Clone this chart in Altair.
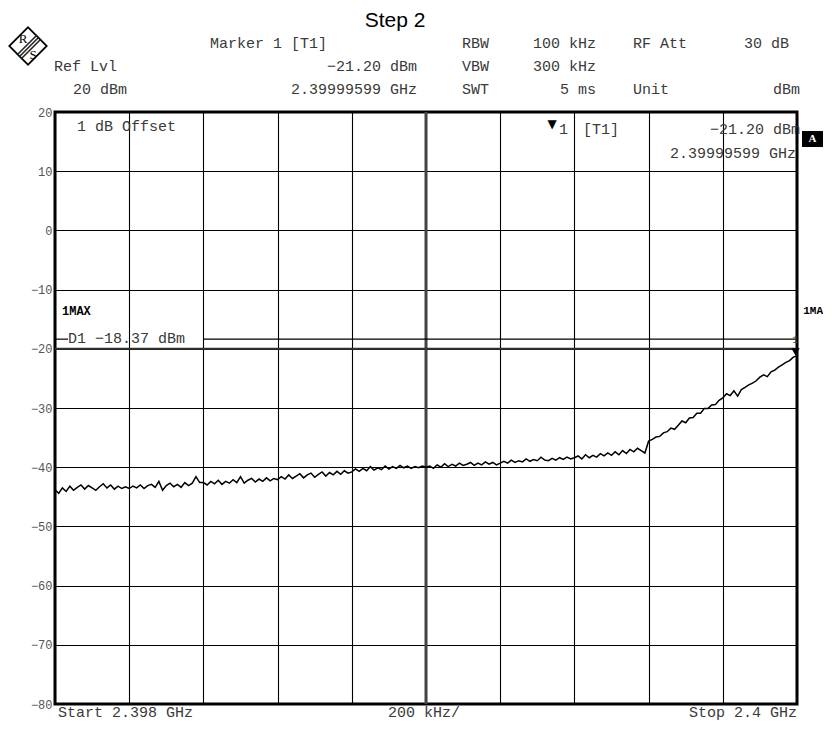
import altair as alt
import pandas as pd

# ---------------- data ----------------
start_mhz = 2398.0
stop_mhz = 2400.0
level_dbm = [
    # 2398.00 - 2398.19
    -43.8, -44.4, -43.5, -44.1, -43.2, -43.9, -43.4, -43.0, -43.7, -43.1,
    -43.5, -43.9, -43.3, -42.8, -43.5, -43.0, -43.7, -43.2, -43.6, -43.3,
    # 2398.20 - 2398.39
    -43.6, -43.2, -43.5, -43.0, -43.6, -43.1, -42.9, -43.4, -42.4, -43.9,
    -43.1, -42.7, -43.3, -42.9, -43.4, -42.6, -43.1, -42.7, -41.6, -42.6,
    # 2398.40 - 2398.59
    -42.6, -43.0, -42.4, -42.8, -42.2, -42.9, -42.4, -42.7, -42.1, -42.6,
    -41.6, -42.7, -42.2, -41.9, -42.5, -42.0, -42.4, -41.8, -42.3, -41.9,
    # 2398.60 - 2398.79
    -42.1, -41.6, -42.0, -41.3, -41.9, -41.5, -41.1, -41.8, -41.3, -41.0,
    -41.7, -41.2, -40.8, -41.5, -40.9, -41.3, -40.7, -41.2, -40.6, -41.0,
    # 2398.80 - 2398.99
    -40.8, -40.3, -40.7, -40.2, -40.6, -39.9, -40.5, -40.1, -40.4, -39.8,
    -40.3, -39.9, -40.2, -39.7, -40.1, -39.8, -40.2, -39.9, -40.1, -39.8,
    # 2399.00 - 2399.19
    -40.0, -39.8, -40.2, -39.6, -40.0, -39.4, -39.9, -39.5, -39.8, -39.3,
    -39.7, -39.5, -39.2, -39.7, -39.3, -39.6, -39.1, -39.5, -39.2, -39.6,
    # 2399.20 - 2399.39
    -39.3, -39.0, -39.3, -38.8, -39.2, -38.9, -39.1, -38.6, -39.0, -38.7,
    -38.9, -38.3, -38.8, -38.9, -38.5, -38.8, -38.4, -38.7, -38.3, -38.6,
    # 2399.40 - 2399.59
    -38.4, -38.1, -38.6, -37.9, -38.4, -38.0, -38.3, -37.7, -38.1, -37.6,
    -38.0, -37.4, -37.9, -37.2, -37.7, -37.0, -37.4, -36.8, -37.2, -37.6,
    # 2399.60 - 2399.79
    -35.6, -35.3, -34.9, -34.8, -34.2, -34.0, -33.4, -33.6, -32.9, -32.2,
    -32.5, -31.7, -31.6, -30.9, -30.9, -30.1, -30.1, -29.5, -29.4, -28.7,
    # 2399.80 - 2400.00
    -28.3, -27.6, -27.9, -27.1, -28.0, -26.9, -26.5, -26.1, -25.8, -25.4,
    -24.8, -24.4, -24.7, -23.9, -23.6, -23.1, -22.7, -22.3, -22.0, -21.4,
    -21.2,
]
x_grid_mhz = [2398.0, 2398.2, 2398.4, 2398.6, 2398.8, 2399.0,
              2399.2, 2399.4, 2399.6, 2399.8, 2400.0]
y_ticks = [20, 10, 0, -10, -20, -30, -40, -50, -60, -70, -80]
display_line_dbm = -18.37
marker_freq_mhz = [2399.99599]
marker_level_dbm = [-21.20]

n = len(level_dbm)
freq = [start_mhz + (stop_mhz - start_mhz) * i / (n - 1) for i in range(n)]
trace = pd.DataFrame({"f": freq, "dbm": level_dbm})
marker = pd.DataFrame({"f": marker_freq_mhz, "dbm": marker_level_dbm})
one = pd.DataFrame({"k": [0]})

# ---------------- layout ----------------
W, H = 742, 592
OX, OY = 55, 112  # plot origin in page pixels

xs = alt.Scale(domain=[start_mhz, stop_mhz], nice=False, zero=False)
ys = alt.Scale(domain=[-80, 20], nice=False, zero=False)

MONO = "Liberation Mono"
GREY = "#3a3a3a"


def label(s, x, y, align="left", size=15, font=MONO, color=GREY, weight="normal",
          baseline="middle"):
    return alt.Chart(one).mark_text(
        text=s, align=align, baseline=baseline, font=font, fontSize=size,
        color=color, fontWeight=weight,
    ).encode(x=alt.value(x - OX), y=alt.value(y - OY))


def seg(x1, y1, x2, y2, width=1.0, color="black"):
    return alt.Chart(one).mark_rule(color=color, strokeWidth=width).encode(
        x=alt.value(x1 - OX), y=alt.value(y1 - OY),
        x2=alt.value(x2 - OX), y2=alt.value(y2 - OY),
    )


line = alt.Chart(trace).mark_line(color="black", strokeWidth=1.5).encode(
    x=alt.X("f:Q", scale=xs, axis=alt.Axis(
        values=x_grid_mhz, grid=True, gridColor="black", gridWidth=1.1, gridOpacity=1,
        labels=False, ticks=False, domain=False, title=None)),
    y=alt.Y("dbm:Q", scale=ys, axis=alt.Axis(
        values=y_ticks, grid=True, gridColor="black", gridWidth=1.1, gridOpacity=1,
        ticks=False, domain=False, title=None, labelFont=MONO, labelFontSize=12,
        labelColor="#555", labelPadding=3, labelFlush=False)),
)

center_rule = alt.Chart(one).mark_rule(color="#444", strokeWidth=3).encode(
    x=alt.datum(2399.0, scale=xs))
minus20_rule = alt.Chart(one).mark_rule(color="#333", strokeWidth=2).encode(
    y=alt.datum(-20, scale=ys))
d1_a = alt.Chart(one).mark_rule(color="black", strokeWidth=1.2).encode(
    y=alt.datum(display_line_dbm, scale=ys), x=alt.value(0), x2=alt.value(13))
d1_b = alt.Chart(one).mark_rule(color="black", strokeWidth=1.2).encode(
    y=alt.datum(display_line_dbm, scale=ys), x=alt.value(149), x2=alt.value(W))

mk = alt.Chart(marker).mark_point(
    shape="triangle-down", filled=True, color="black", size=70, yOffset=-4, opacity=1
).encode(x=alt.X("f:Q", scale=xs), y=alt.Y("dbm:Q", scale=ys))
mk_lbl = alt.Chart(marker).mark_text(
    text="1", font=MONO, fontSize=11, color=GREY, dy=-16
).encode(x=alt.X("f:Q", scale=xs), y=alt.Y("dbm:Q", scale=ys))

# R&S logo
logo_box = alt.Chart(one).mark_point(
    shape="square", angle=45, size=700, filled=False, color="black", strokeWidth=1.8,
    opacity=1).encode(x=alt.value(28 - OX), y=alt.value(46 - OY))
logo_band1 = seg(17, 55, 37, 35, width=1.6, color="#222")
logo_band2 = seg(19, 57, 39, 37, width=1.6, color="#222")
logo_band3 = seg(21, 59, 41, 39, width=1.6, color="#222")
logo_r = label("R", 23, 39, align="center", size=13, font="Liberation Serif", color="black")
logo_s = label("S", 33, 55, align="center", size=13, font="Liberation Serif", color="black")

a_box = alt.Chart(one).mark_rect(color="black").encode(
    x=alt.value(802 - OX), x2=alt.value(823 - OX), y=alt.value(131 - OY), y2=alt.value(147 - OY))
a_txt = label("A", 812.5, 139, align="center", size=11, color="white", weight="bold",
              font="Liberation Serif")

BOT = 712
texts = [
    label("Step 2", 395, 27, align="center", size=21, font="Liberation Sans", color="black",
          baseline="alphabetic"),
    # header row 1
    label("Marker 1 [T1]", 210, 43),
    label("RBW", 462, 43),
    label("100 kHz", 596, 43, align="right"),
    label("RF Att", 633, 43),
    label("30 dB", 789, 43, align="right"),
    # header row 2
    label("Ref Lvl", 54, 66),
    label("\u221221.20 dBm", 417, 66, align="right"),
    label("VBW", 462, 66),
    label("300 kHz", 596, 66, align="right"),
    # header row 3
    label("20 dBm", 127, 89, align="right"),
    label("2.39999599 GHz", 417, 89, align="right"),
    label("SWT", 462, 89),
    label("5 ms", 596, 89, align="right"),
    label("Unit", 633, 89),
    label("dBm", 800, 89, align="right"),
    # inside plot
    label("1 dB Offset", 77, 126),
    label("\u25BC", 552, 124, align="center", size=12, font="DejaVu Sans", color="black"),
    label("1", 559, 129),
    label("[T1]", 583, 129),
    label("\u221221.20 dBm", 800, 129, align="right"),
    label("2.39999599 GHz", 796, 153, align="right"),
    label("1MAX", 62, 311, size=12, weight="bold", color="black"),
    label("D1 \u221218.37 dBm", 68, 338),
    label("1MA", 823, 311, align="right", size=11, weight="bold", color="black"),
    # bottom
    label("Start 2.398 GHz", 58, BOT),
    label("200 kHz/", 388, BOT),
    label("Stop 2.4 GHz", 797, BOT, align="right"),
]

chart = alt.layer(
    center_rule, minus20_rule, d1_a, d1_b, line, mk, mk_lbl,
    logo_box, logo_band1, logo_band2, logo_band3, logo_r, logo_s,
    a_box, a_txt, *texts,
).properties(
    width=W, height=H,
    autosize=alt.AutoSizeParams(type="none"),
    padding={"left": OX - 8, "top": OY - 8, "right": 26, "bottom": 18},
    background="white",
).configure_view(
    stroke="black", strokeWidth=3,
)

chart.save("out.html", embed_options={"renderer": "svg", "actions": False})
